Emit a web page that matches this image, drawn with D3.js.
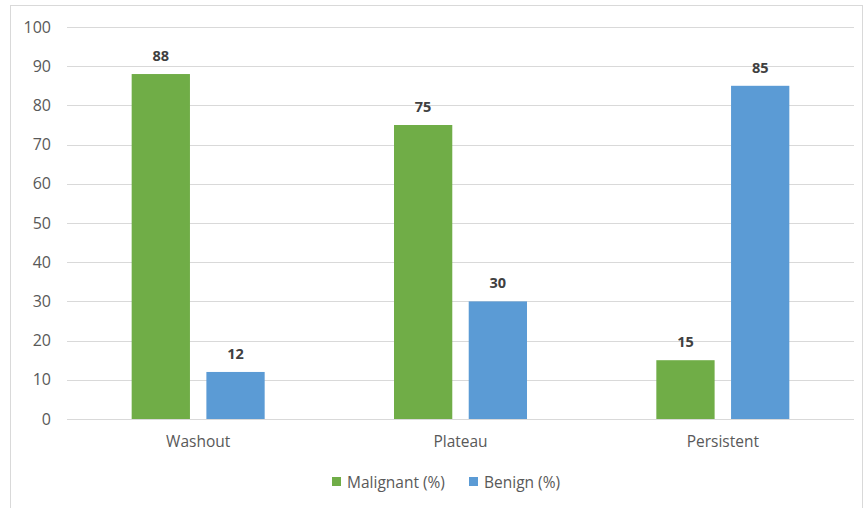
<html>
<head>
  <script src="https://d3js.org/d3.v7.min.js"></script>
  <style>
    body { margin: 0; background: #fff; }
    text { font-family: "Open Sans", sans-serif; }
  </style>
</head>
<body>
  <svg width="865" height="508"></svg>
  <script>
  var categories = ["Washout", "Plateau", "Persistent"];
  var seriesNames = ["Malignant (%)", "Benign (%)"];
  var malignant = [88, 75, 15];
  var benign = [12, 30, 85];
  var yTicks = [0, 10, 20, 30, 40, 50, 60, 70, 80, 90, 100];
  var colors = ["#70ad47", "#5b9bd5"];

  var svg = d3.select("svg");

  // chart frame
  svg.append("rect")
    .attr("x", 10.5).attr("y", 5.5)
    .attr("width", 852).attr("height", 504)
    .attr("fill", "none").attr("stroke", "#d9d9d9");

  var X = d3.scaleBand().domain(categories).range([67, 854]);
  var Y = d3.scaleLinear().domain([0, 100]).range([419, 27]);
  var inner = d3.scaleBand().domain(seriesNames).range([-66.5, 66.5]).paddingInner(0.22);

  // gridlines
  svg.append("g").selectAll("line")
    .data(yTicks)
    .enter().append("line")
    .attr("x1", 67).attr("x2", 854)
    .attr("y1", function(d) { return Math.round(Y(d)) + 0.5; })
    .attr("y2", function(d) { return Math.round(Y(d)) + 0.5; })
    .attr("stroke", "#d9d9d9");

  // y axis labels
  var yAxis = d3.axisLeft(Y).tickValues(yTicks).tickSize(0).tickPadding(0);
  var yg = svg.append("g").attr("transform", "translate(51,0)").call(yAxis);
  yg.select(".domain").remove();
  yg.selectAll("text").attr("fill", "#595959").style("font-size", "16px");

  // x axis labels
  var xAxis = d3.axisBottom(X).tickSize(0).tickPadding(0);
  var xg = svg.append("g").attr("transform", "translate(0,436)").call(xAxis);
  xg.select(".domain").remove();
  xg.selectAll("text").attr("fill", "#595959").style("font-size", "15.5px");

  var rows = categories.map(function(c, i) {
    return [{cat: c, s: 0, v: malignant[i]}, {cat: c, s: 1, v: benign[i]}];
  });
  var flat = [].concat.apply([], rows);

  var bx = function(d) { return X(d.cat) + X.bandwidth() / 2 + inner(seriesNames[d.s]); };

  svg.append("g").selectAll("rect")
    .data(flat)
    .enter().append("rect")
    .attr("x", bx)
    .attr("y", function(d) { return Y(d.v); })
    .attr("width", inner.bandwidth())
    .attr("height", function(d) { return Y(0) - Y(d.v); })
    .attr("fill", function(d) { return colors[d.s]; });

  svg.append("g").selectAll("text")
    .data(flat)
    .enter().append("text")
    .attr("x", function(d) { return bx(d) + inner.bandwidth() / 2; })
    .attr("y", function(d) { return Y(d.v) - 13; })
    .attr("text-anchor", "middle")
    .attr("fill", "#404040")
    .style("font-size", "14.5px")
    .style("font-weight", "bold")
    .text(function(d) { return d.v; });

  // legend
  var legendX = [332, 469];
  var lg = svg.append("g").selectAll("g")
    .data(seriesNames)
    .enter().append("g")
    .attr("transform", function(d, i) { return "translate(" + legendX[i] + ",477)"; });
  lg.append("rect").attr("width", 9).attr("height", 9)
    .attr("fill", function(d, i) { return colors[i]; });
  lg.append("text").attr("x", 15).attr("y", 10.5)
    .attr("fill", "#595959").style("font-size", "15.5px")
    .text(function(d) { return d; });
  </script>
</body>
</html>
